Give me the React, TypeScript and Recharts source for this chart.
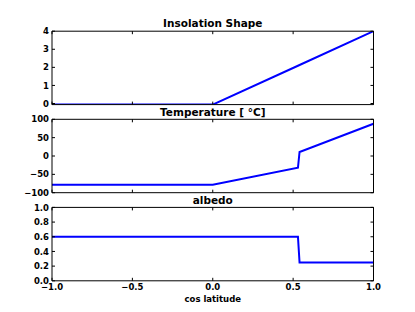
import React from 'react';
import { LineChart, Line, XAxis, YAxis } from 'recharts';

// ---- data ----
const cosLatitude = [-1, 0, 0.53, 0.54, 1];
const insolationShape = [-0.06, -0.06, 2.09, 2.13, 4.0];
const temperature = [-78, -78, -32, 11, 88];
const albedo = [0.6, 0.6, 0.6, 0.25, 0.25];

const xTicks = [-1, -0.5, 0, 0.5, 1];
const xTickLabels = ['\u22121.0', '\u22120.5', '0.0', '0.5', '1.0'];

const insTicks = [0, 1, 2, 3, 4];
const insTickLabels = ['0', '1', '2', '3', '4'];
const tempTicks = [-100, -50, 0, 50, 100];
const tempTickLabels = ['\u2212100', '\u221250', '0', '50', '100'];
const albTicks = [0, 0.2, 0.4, 0.6, 0.8, 1.0];
const albTickLabels = ['0.0', '0.2', '0.4', '0.6', '0.8', '1.0'];

const titles = ['Insolation Shape', 'Temperature [ \u00B0C]', 'albedo'];
const xLabel = 'cos latitude';

const rows = cosLatitude.map((x, i) => ({
  x,
  ins: insolationShape[i],
  temp: temperature[i],
  alb: albedo[i],
}));

// ---- layout ----
const W = 415;
const H = 312;
const LEFT = 52;
const RIGHT = 373.5;
const TOPS = [31.2, 119.3, 207.4];
const BOTTOMS = [104.6, 192.7, 280.8];
const FONT = '"DejaVu Sans", sans-serif';
const TL = 3; // tick length
const AX = 10; // axis band size

const makeLeftTick = (ticks: number[], labels: string[]) => (p: any) => {
  const idx = ticks.indexOf(p.payload.value);
  return (
    <g>
      <line x1={p.x} x2={p.x + TL} y1={p.y} y2={p.y} stroke="#000" strokeWidth={1} />
      <text x={p.x - 3} y={p.y + 3.1} textAnchor="end" fontSize={8.5} fontWeight="bold" fontFamily={FONT} fill="#000">
        {idx >= 0 ? labels[idx] : ''}
      </text>
    </g>
  );
};
const rightTick = (p: any) => (
  <line x1={p.x} x2={p.x - TL} y1={p.y} y2={p.y} stroke="#000" strokeWidth={1} />
);
const topTick = (p: any) => (
  <line x1={p.x} x2={p.x} y1={p.y} y2={p.y + TL} stroke="#000" strokeWidth={1} />
);
const makeBottomTick = (withLabels: boolean) => (p: any) => {
  const idx = xTicks.indexOf(p.payload.value);
  return (
    <g>
      <line x1={p.x} x2={p.x} y1={p.y} y2={p.y - TL} stroke="#000" strokeWidth={1} />
      {withLabels ? (
        <text x={p.x} y={p.y + 9.6} textAnchor="middle" fontSize={8.5} fontWeight="bold" fontFamily={FONT} fill="#000">
          {idx >= 0 ? xTickLabels[idx] : ''}
        </text>
      ) : null}
    </g>
  );
};

type PanelProps = {
  i: number;
  dataKey: string;
  domain: [number, number];
  ticks: number[];
  labels: string[];
  showX: boolean;
};

const Panel = ({ i, dataKey, domain, ticks, labels, showX }: PanelProps) => (
  <div style={{ position: 'absolute', left: 0, top: 0 }}>
    <LineChart
      width={W}
      height={H}
      data={rows}
      margin={{ top: TOPS[i] - AX, bottom: H - BOTTOMS[i] - AX, left: LEFT - AX, right: W - RIGHT - AX }}
    >
      <XAxis
        xAxisId="b"
        dataKey="x"
        type="number"
        domain={[-1, 1]}
        allowDataOverflow
        ticks={xTicks}
        interval={0}
        height={AX}
        tickSize={0}
        tickMargin={0}
        tickLine={false}
        axisLine={{ stroke: '#000', strokeWidth: 1 }}
        tick={makeBottomTick(showX)}
      />
      <XAxis
        xAxisId="t"
        orientation="top"
        dataKey="x"
        type="number"
        domain={[-1, 1]}
        allowDataOverflow
        ticks={xTicks}
        interval={0}
        height={AX}
        tickSize={0}
        tickMargin={0}
        tickLine={false}
        axisLine={{ stroke: '#000', strokeWidth: 1 }}
        tick={topTick}
      />
      <YAxis
        yAxisId="l"
        type="number"
        domain={domain}
        allowDataOverflow
        ticks={ticks}
        interval={0}
        width={AX}
        tickSize={0}
        tickMargin={0}
        tickLine={false}
        axisLine={{ stroke: '#000', strokeWidth: 1 }}
        tick={makeLeftTick(ticks, labels)}
      />
      <YAxis
        yAxisId="r"
        orientation="right"
        type="number"
        domain={domain}
        allowDataOverflow
        ticks={ticks}
        interval={0}
        width={AX}
        tickSize={0}
        tickMargin={0}
        tickLine={false}
        axisLine={{ stroke: '#000', strokeWidth: 1 }}
        tick={rightTick}
      />
      <Line
        xAxisId="b"
        yAxisId="l"
        type="linear"
        dataKey={dataKey}
        stroke="#0000ff"
        strokeWidth={2}
        dot={false}
        activeDot={false}
        isAnimationActive={false}
      />
    </LineChart>
  </div>
);

export default function App() {
  const cx = (LEFT + RIGHT) / 2;
  return (
    <div style={{ position: 'absolute', left: 0, top: 0, width: W, height: H, background: '#fff' }}>
      <Panel i={0} dataKey="ins" domain={[-0.06, 4]} ticks={insTicks} labels={insTickLabels} showX={false} />
      <Panel i={1} dataKey="temp" domain={[-100, 100]} ticks={tempTicks} labels={tempTickLabels} showX={false} />
      <Panel i={2} dataKey="alb" domain={[0, 1]} ticks={albTicks} labels={albTickLabels} showX={true} />
      <svg width={W} height={H} style={{ position: 'absolute', left: 0, top: 0, pointerEvents: 'none' }}>
        {titles.map((t, i) => (
          <text key={t} x={cx} y={TOPS[i] - 3.8} textAnchor="middle" fontSize={10.5} fontWeight="bold" fontFamily={FONT} fill="#000">
            {t}
          </text>
        ))}
        <text x={cx} y={301.5} textAnchor="middle" fontSize={8.5} fontWeight="bold" fontFamily={FONT} fill="#000">
          {xLabel}
        </text>
      </svg>
    </div>
  );
}
